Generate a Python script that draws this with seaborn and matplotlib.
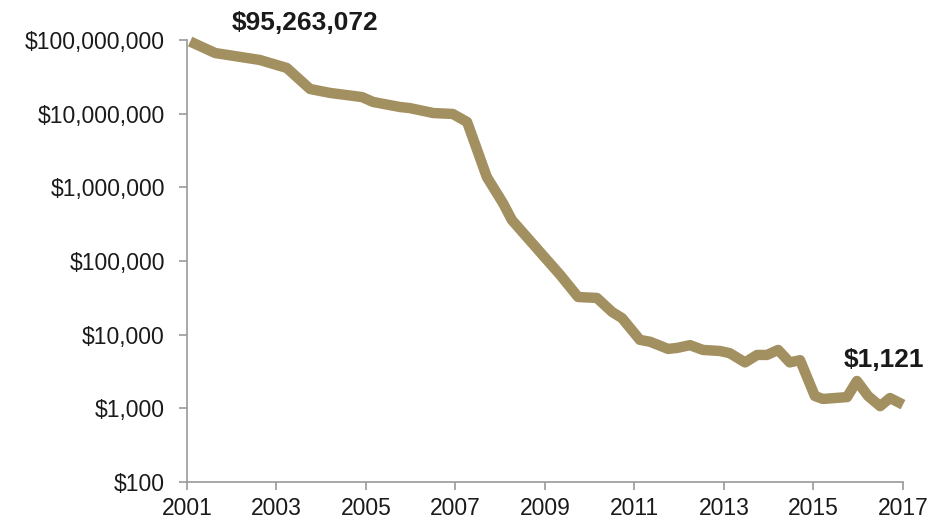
import pandas as pd
import matplotlib.pyplot as plt
import matplotlib.ticker as mticker
import seaborn as sns

# cost per genome
years = [2001.07, 2001.63, 2002.18, 2002.63, 2003.23, 2003.75, 2004.20, 2004.91,
         2005.16, 2005.76, 2005.98, 2006.50, 2006.94, 2007.26, 2007.70, 2008.06,
         2008.26, 2008.89, 2009.34, 2009.74, 2010.16, 2010.50, 2010.72, 2011.12,
         2011.35, 2011.75, 2011.95, 2012.24, 2012.53, 2012.91, 2013.13, 2013.47,
         2013.74, 2013.96, 2014.21, 2014.47, 2014.70, 2015.03, 2015.21, 2015.75,
         2015.97, 2016.22, 2016.49, 2016.71, 2017.00]
cost = [95263072, 66500000, 59000000, 53500000, 41700000, 21600000, 19100000, 16800000,
        14400000, 12300000, 11900000, 10200000, 9900000, 7700000, 1380000, 612000,
        360000, 132000, 64600, 32400, 31500, 20300, 16800, 8500,
        8000, 6400, 6600, 7200, 6200, 6000, 5600, 4200,
        5300, 5300, 6200, 4200, 4500, 1470, 1340, 1420,
        2350, 1470, 1070, 1380, 1121]

tick_years = [2001, 2003, 2005, 2007, 2009, 2011, 2013, 2015, 2017]
tick_costs = [100, 1000, 10000, 100000, 1000000, 10000000, 100000000]

df = pd.DataFrame({'Year': years, 'Cost': cost})

sns.set_style('ticks')
plt.rcParams['font.family'] = ['Liberation Sans', 'DejaVu Sans']

fig = plt.figure(figsize=(9.34, 5.24), dpi=100)
ax = fig.add_axes([0.2002, 0.0802, 0.7666, 0.8435])

sns.lineplot(data=df, x='Year', y='Cost', color='#A39061', linewidth=7.5,
             solid_capstyle='butt', solid_joinstyle='round', ax=ax, clip_on=False)

ax.set_yscale('log')
ax.set_xlim(2001, 2017)
ax.set_ylim(100, 100000000)
ax.set_xticks(tick_years)
ax.set_yticks(tick_costs)
ax.yaxis.set_minor_locator(mticker.NullLocator())
ax.yaxis.set_major_formatter(mticker.FuncFormatter(lambda v, p: f'${v:,.0f}'))
ax.set_xlabel('')
ax.set_ylabel('')

for side in ['top', 'right']:
    ax.spines[side].set_visible(False)
for side in ['left', 'bottom']:
    ax.spines[side].set_color('#9a9a9a')
    ax.spines[side].set_linewidth(1.2)
ax.tick_params(axis='both', colors='#9a9a9a', labelcolor='#1a1a1a',
               labelsize=16.5, length=6, width=1.2)
ax.tick_params(axis='x', pad=5)
ax.tick_params(axis='y', pad=10)

ax.text(2002.0, cost[0] * 1.8, f'${cost[0]:,}', fontsize=19, fontweight='bold',
        color='#1a1a1a', ha='left', va='center')
ax.text(2016.58, 4530, f'${cost[-1]:,}', fontsize=19, fontweight='bold',
        color='#1a1a1a', ha='center', va='center')

fig.savefig('out.png', dpi=100)
